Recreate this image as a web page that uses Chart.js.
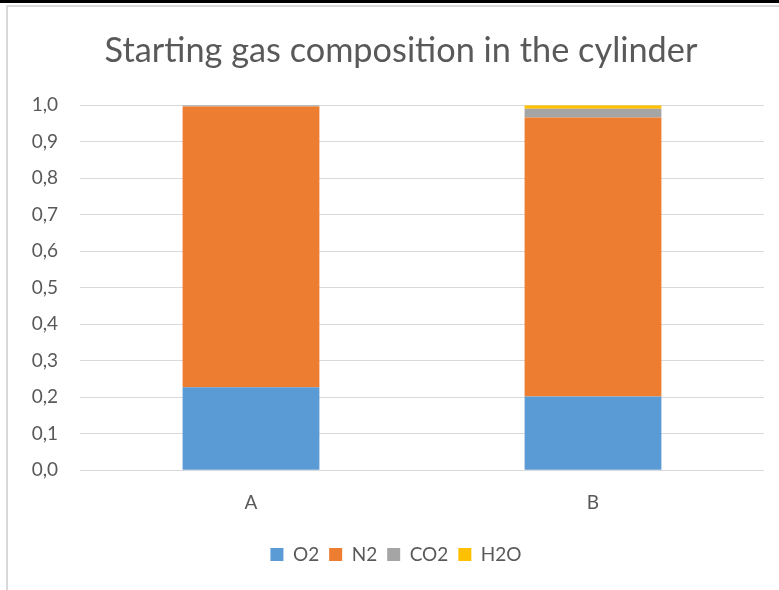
<!DOCTYPE html>
<html>
<head>
<meta charset="utf-8">
<script src="https://cdn.jsdelivr.net/npm/chart.js@4/dist/chart.umd.min.js"></script>
<style>
  html, body { margin: 0; padding: 0; background: #fff; }
  #page { position: relative; width: 779px; height: 590px; overflow: hidden; }
  #topRule { position: absolute; left: 0; top: 0; width: 779px; height: 3px; background: #000; }
  #frame { position: absolute; left: 6px; top: 5px; width: 773px; height: 585px;
           border-top: 2px solid #d9d9d9; border-left: 2px solid #d9d9d9; box-sizing: border-box; }
  #wrap { position: absolute; left: 8px; top: 7px; width: 771px; height: 583px; }
  canvas { display: block; }
</style>
</head>
<body>
<div id="page">
  <div id="topRule"></div>
  <div id="frame"></div>
  <div id="wrap"><canvas id="c" width="771" height="583"></canvas></div>
</div>
<script>
// Cylinder fill cases
const categories = ['A', 'B'];
// Mole fractions per gas
const o2Values  = [0.227, 0.202];
const n2Values  = [0.769, 0.764];
const co2Values = [0.004, 0.024];
const h2oValues = [0.000, 0.010];
const yTicks = [0, 0.1, 0.2, 0.3, 0.4, 0.5, 0.6, 0.7, 0.8, 0.9, 1.0];

const FONT = 'Lato, "Open Sans", sans-serif';
const TEXT = '#595959';

const series = [
  { label: 'O2',  data: o2Values,  color: '#5b9bd5' },
  { label: 'N2',  data: n2Values,  color: '#ed7d31' },
  { label: 'CO2', data: co2Values, color: '#a5a5a5' },
  { label: 'H2O', data: h2oValues, color: '#ffc000' }
];

// Nudge the title and legend blocks a little to the right of the canvas centre
const shiftBlocks = {
  id: 'shiftBlocks',
  afterLayout(chart) {
    if (chart.titleBlock) chart.titleBlock.left += 30;
    if (chart.legend) chart.legend.left += 20;
  }
};

new Chart(document.getElementById('c'), {
  type: 'bar',
  data: {
    labels: categories,
    datasets: series.map(s => ({
      label: s.label,
      data: s.data,
      backgroundColor: s.color,
      borderWidth: 0,
      barPercentage: 1.0,
      categoryPercentage: 0.4
    }))
  },
  plugins: [shiftBlocks],
  options: {
    responsive: false,
    animation: false,
    devicePixelRatio: 1,
    layout: { padding: { left: 0, right: 15, top: 0, bottom: 16 } },
    plugins: {
      title: {
        display: true,
        text: 'Starting gas composition in the cylinder',
        color: TEXT,
        font: { family: FONT, size: 34.3, weight: 'normal' },
        padding: { top: 23, bottom: 34 }
      },
      legend: {
        position: 'bottom',
        labels: {
          color: TEXT,
          font: { family: FONT, size: 19 },
          boxWidth: 13,
          boxHeight: 13,
          padding: 10
        }
      },
      tooltip: { enabled: false }
    },
    scales: {
      x: {
        stacked: true,
        grid: { display: false, drawTicks: false },
        border: { display: false },
        ticks: { color: TEXT, font: { family: FONT, size: 19 }, padding: 21 }
      },
      y: {
        stacked: true,
        min: 0,
        max: 1.0,
        afterBuildTicks: axis => { axis.ticks = yTicks.map(v => ({ value: v })); },
        afterFit: axis => { axis.width = 72; },
        grid: { color: '#d9d9d9', lineWidth: 1, drawTicks: false },
        border: { display: false },
        ticks: {
          color: TEXT,
          font: { family: FONT, size: 19 },
          padding: 22,
          callback: v => v.toFixed(1).replace('.', ',')
        }
      }
    }
  }
});
</script>
</body>
</html>
